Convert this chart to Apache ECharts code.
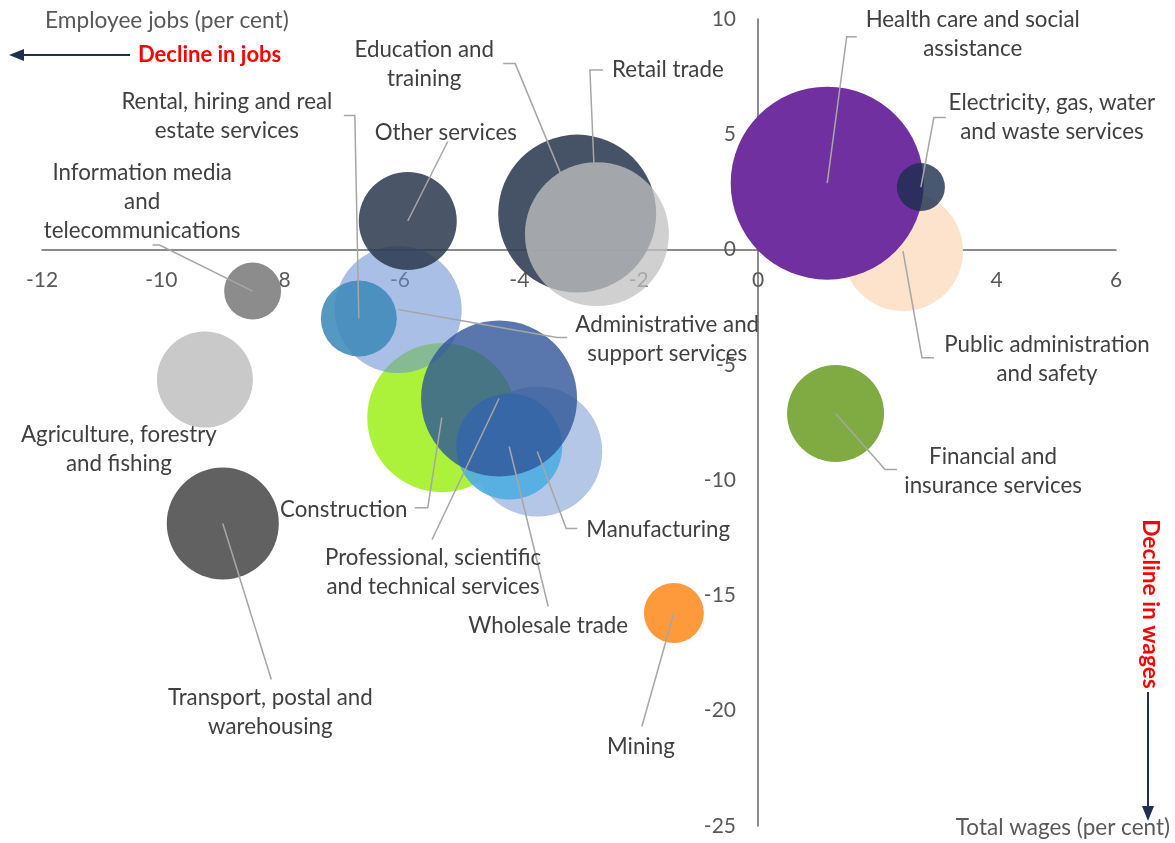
<!DOCTYPE html>
<html><head><meta charset="utf-8">
<script src="https://cdn.jsdelivr.net/npm/echarts@6/dist/echarts.min.js"></script>
<style>html,body{margin:0;padding:0;background:#fff}#c{width:1175px;height:843px}</style>
</head><body><div id="c"></div>
<script>
// ---- data ----
const industries = [
  'Public administration and safety',
  'Health care and social assistance',
  'Electricity, gas, water and waste services',
  'Financial and insurance services',
  'Mining',
  'Education and training',
  'Retail trade',
  'Information media and telecommunications',
  'Agriculture, forestry and fishing',
  'Transport, postal and warehousing',
  'Construction',
  'Administrative and support services',
  'Rental, hiring and real estate services',
  'Other services',
  'Manufacturing',
  'Wholesale trade',
  'Professional, scientific and technical services'
];
// change in employee jobs (per cent)
const jobsChange   = [2.43, 1.16, 2.73, 1.30, -1.41, -3.03, -2.70, -8.47, -9.27, -8.97, -5.30, -6.03, -6.69, -5.87, -3.70, -4.17, -4.34];
// change in total wages (per cent)
const wagesChange  = [-0.07, 2.88, 2.71, -7.11, -15.76, 1.56, 0.67, -1.80, -5.64, -11.88, -7.29, -2.60, -2.99, 1.24, -8.76, -8.54, -6.46];
// bubble size (employment, '000, estimated)
const employment   = [773, 2000, 124, 505, 193, 1340, 1113, 174, 495, 674, 1192, 866, 310, 516, 907, 603, 1307];

const xMin = -12, xMax = 6, xStep = 2;
const yMin = -25, yMax = 10, yStep = 5;

// ---- styles / layout ----
const W = 1175, H = 843;
const G = {left: 42, right: 59, top: 19, bottom: 17};
const gridW = W - G.left - G.right, gridH = H - G.top - G.bottom;
// move the axes to cross at zero (labels follow the axis lines)
const yAxisOffset = -gridW * (0 - xMin) / (xMax - xMin);
const xAxisOffset = -gridH * (0 - yMin) / (yMax - yMin);

const colors = [
  '#FDE3CB', '#7030A0', 'rgba(28,46,78,0.8)', '#80AB43', '#FE9A3C',
  'rgba(50,63,84,0.9)', 'rgba(193,193,193,0.76)', '#8C8C8C', '#C9C9C9', '#616161',
  '#ACF23A', 'rgba(107,145,210,0.58)', 'rgba(62,138,186,0.88)', 'rgba(42,55,78,0.85)',
  '#B4C7E7', 'rgba(80,172,226,0.92)', 'rgba(47,85,151,0.8)'
];
// label text (wrapped), text centre offset, leader line points (offsets from bubble centre)
const labelLayout = [
  {text:'Public administration\nand safety', t:[144,108], line:[[19,106.5],[31,106.5]]},
  {text:'Health care and social\nassistance', t:[145.5,-148.5], line:[[19.5,-146.5],[29.5,-146.5]]},
  {text:'Electricity, gas, water\nand waste services', t:[131,-70], line:[[13,-69.5],[25,-69.5]]},
  {text:'Financial and\ninsurance services', t:[157.5,58], line:[[49.5,56],[61.5,56]]},
  {text:'Mining', t:[-33,133.5], line:[[-32,113.5]]},
  {text:'Education and\ntraining', t:[-153,-149.5], line:[[-62,-150],[-74,-150]]},
  {text:'Retail trade', t:[71,-164.5], line:[[-7,-164],[6,-164]]},
  {text:'Information media\nand\ntelecommunications', t:[-110.5,-89.5], line:[[-93,-46],[-100,-46]]},
  {text:'Agriculture, forestry\nand fishing', t:[-86,69.5], line:null},
  {text:'Transport, postal and\nwarehousing', t:[47.5,188.5], line:[[48.5,156]]},
  {text:'Construction', t:[-98,92], line:[[-14,90],[-27,90]]},
  {text:'Administrative and\nsupport services', t:[269,29.5], line:[[159,28],[169,28]]},
  {text:'Rental, hiring and real\nestate services', t:[-132,-202], line:[[-4,-203],[-15,-203]]},
  {text:'Other services', t:[38,-88.5], line:[[40,-79.5]]},
  {text:'Manufacturing', t:[121,78], line:[[29,77],[40,77]]},
  {text:'Wholesale trade', t:[39,179], line:[[39,160]]},
  {text:'Professional, scientific\nand technical services', t:[-66,173.5], line:[[-67,141]]}
];

const FONT = 'Lato, "Noto Sans", sans-serif';
const points = industries.map((n, i) => [jobsChange[i], wagesChange[i], employment[i], n]);

const chart = echarts.init(document.getElementById('c'), null, {renderer: 'canvas'});
chart.setOption({
  animation: false,
  backgroundColor: '#fff',
  grid: {left: G.left, right: G.right, top: G.top, bottom: G.bottom, containLabel: false, outerBoundsMode: 'none'},
  xAxis: {
    type: 'value', min: xMin, max: xMax, interval: xStep, position: 'bottom', offset: xAxisOffset,
    axisLine: {onZero: false, lineStyle: {color: '#666', width: 1.5}},
    axisTick: {show: false}, splitLine: {show: false},
    axisLabel: {color: '#595959', fontSize: 21, fontFamily: FONT, margin: 20}
  },
  yAxis: {
    type: 'value', min: yMin, max: yMax, interval: yStep, position: 'left', offset: yAxisOffset,
    axisLine: {onZero: false, lineStyle: {color: '#666', width: 1.5}},
    axisTick: {show: false}, splitLine: {show: false},
    axisLabel: {color: '#595959', fontSize: 21, fontFamily: FONT, margin: 22}
  },
  series: [
    {
      type: 'scatter',
      data: points,
      symbol: 'circle',
      symbolSize: v => 193 * Math.sqrt(v[2] / 2000),
      itemStyle: {color: p => colors[p.dataIndex], borderWidth: 0, opacity: 1},
      emphasis: {disabled: true},
      z: 2
    },
    {
      type: 'custom',
      data: points,
      z: 5,
      silent: true,
      clip: false,
      renderItem: (params, api) => {
        const i = params.dataIndex;
        const c = api.coord([api.value(0), api.value(1)]);
        const L = labelLayout[i];
        const children = [];
        if (L.line) {
          const pts = [[c[0], c[1]]].concat(L.line.map(p => [c[0] + p[0], c[1] + p[1]]));
          children.push({type: 'polyline', shape: {points: pts},
            style: {stroke: '#A6A6A6', lineWidth: 1.5, fill: null}});
        }
        children.push({type: 'text', style: {
          text: L.text, x: c[0] + L.t[0], y: c[1] + L.t[1],
          align: 'center', verticalAlign: 'middle',
          fontSize: 22.3, fontFamily: FONT, lineHeight: 29, fill: '#404040'
        }});
        return {type: 'group', children};
      }
    }
  ],
  graphic: [
    {type: 'text', left: 45, top: 9, style: {text: 'Employee jobs (per cent)', fontSize: 22.7, fontFamily: FONT, fill: '#595959'}},
    {type: 'line', shape: {x1: 130, y1: 55, x2: 22, y2: 55}, style: {stroke: '#1F3150', lineWidth: 2}},
    {type: 'polygon', shape: {points: [[9, 55], [24, 49], [24, 61]]}, style: {fill: '#1F3150'}},
    {type: 'text', left: 138, top: 44, style: {text: 'Decline in jobs', fontSize: 22, fontWeight: 'bold', fontFamily: FONT, fill: '#FF0000'}},
    {type: 'text', x: 1150, y: 604, rotation: -Math.PI / 2,
      style: {text: 'Decline in wages', fontSize: 22.7, fontWeight: 'bold', fontFamily: FONT, fill: '#FF0000', align: 'center', verticalAlign: 'middle'}},
    {type: 'line', shape: {x1: 1148, y1: 692, x2: 1148, y2: 808}, style: {stroke: '#1F3150', lineWidth: 2}},
    {type: 'polygon', shape: {points: [[1148, 821], [1142, 806], [1154, 806]]}, style: {fill: '#1F3150'}},
    {type: 'text', right: 5, top: 816, style: {text: 'Total wages (per cent)', fontSize: 22.5, fontFamily: FONT, fill: '#595959'}}
  ]
});
</script>
</body></html>
